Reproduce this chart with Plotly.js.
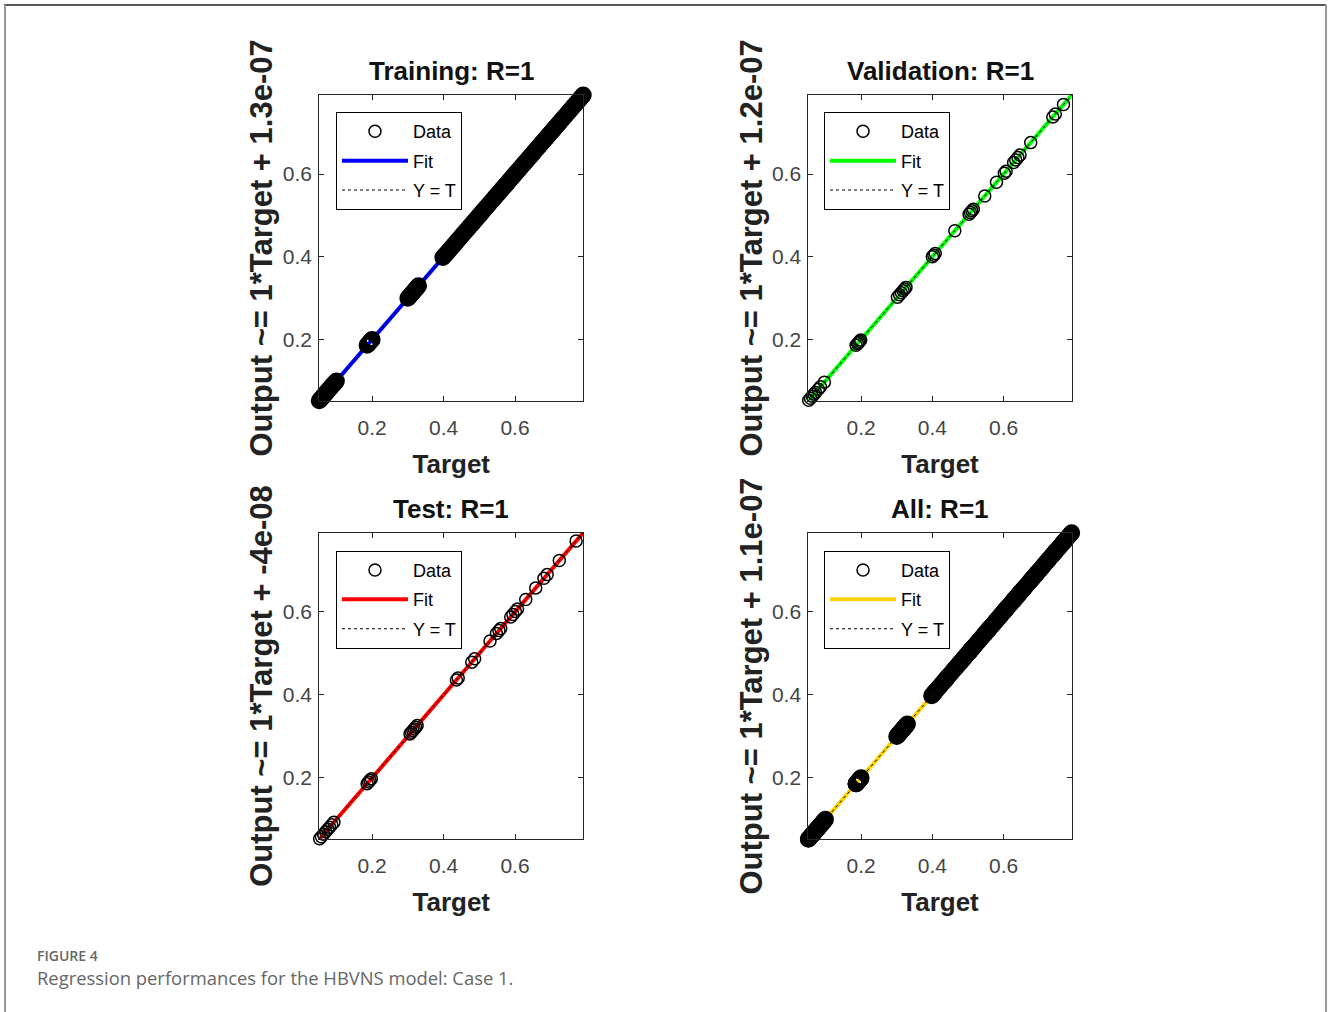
<!DOCTYPE html>
<html><head><meta charset="utf-8">
<script src="https://cdn.plot.ly/plotly-3.0.1.min.js"></script>
<style>html,body{margin:0;padding:0;background:#fff;} #chart{width:1328px;height:1012px;}</style>
</head><body><div id="chart"></div>
<script>
// ---------- data ----------
const panelTitles = ['Training: R=1', 'Validation: R=1', 'Test: R=1', 'All: R=1'];
const yTitles = ['Output ~= 1*Target + 1.3e-07', 'Output ~= 1*Target + 1.2e-07',
                 'Output ~= 1*Target + -4e-08', 'Output ~= 1*Target + 1.1e-07'];
const xTitle = 'Target';
const fitSlopes = [1, 1, 1, 1];
const fitOffsets = [1.3e-7, 1.2e-7, -4e-8, 1.1e-7];
const axisLimits = [0.052, 0.791];
const tickValues = [0.2, 0.4, 0.6];
const tickLabels = ['0.2', '0.4', '0.6'];
const legendNames = ['Data', 'Fit', 'Y = T'];

const trainTargets = [
  0.052, 0.055, 0.058, 0.061, 0.064, 0.067, 0.070, 0.073, 0.076, 0.079, 0.082, 0.085, 0.088, 0.091, 0.094, 0.097, 0.100,
  0.186, 0.189, 0.192, 0.195, 0.198, 0.200,
  0.300, 0.303, 0.306, 0.309, 0.312, 0.315, 0.318, 0.321, 0.324, 0.327, 0.330,
  0.398, 0.403, 0.408, 0.413, 0.418, 0.423, 0.428, 0.433, 0.438, 0.443, 0.448, 0.453, 0.458, 0.463, 0.468,
  0.473, 0.478, 0.483, 0.488, 0.493, 0.498, 0.503, 0.508, 0.513, 0.518, 0.523, 0.528, 0.533, 0.538, 0.543,
  0.548, 0.553, 0.558, 0.563, 0.568, 0.573, 0.578, 0.583, 0.588, 0.593, 0.598, 0.603, 0.608, 0.613, 0.618,
  0.623, 0.628, 0.633, 0.638, 0.643, 0.648, 0.653, 0.658, 0.663, 0.668, 0.673, 0.678, 0.683, 0.688, 0.693,
  0.698, 0.703, 0.708, 0.713, 0.718, 0.723, 0.728, 0.733, 0.738, 0.743, 0.748, 0.753, 0.758, 0.763, 0.768,
  0.773, 0.778, 0.783, 0.788, 0.791
];
const trainOutputs = trainTargets; // R = 1: outputs coincide with targets

const valTargets = [
  0.053, 0.058, 0.063, 0.068, 0.072, 0.080, 0.086, 0.097,
  0.186, 0.190, 0.193, 0.196, 0.199,
  0.302, 0.308, 0.313, 0.318, 0.322, 0.326,
  0.400, 0.404, 0.408, 0.463, 0.503, 0.507, 0.511, 0.515, 0.547, 0.580, 0.602, 0.607,
  0.628, 0.634, 0.640, 0.646, 0.676, 0.738, 0.745, 0.768
];
const valOutputs = valTargets;

const testTargets = [
  0.053, 0.058, 0.064, 0.070, 0.076, 0.081, 0.087, 0.093,
  0.186, 0.190, 0.194, 0.198,
  0.306, 0.310, 0.314, 0.318, 0.322, 0.326,
  0.436, 0.441, 0.479, 0.487, 0.530, 0.548, 0.555, 0.560, 0.588, 0.594, 0.601, 0.607,
  0.630, 0.658, 0.681, 0.690, 0.724, 0.771
];
const testOutputs = testTargets;

const allTargets = trainTargets.concat(valTargets, testTargets);
const allOutputs = trainOutputs.concat(valOutputs, testOutputs);

const panelTargets = [trainTargets, valTargets, testTargets, allTargets];
const panelOutputs = [trainOutputs, valOutputs, testOutputs, allOutputs];

// ---------- styling ----------
const fitColors = ['#0000ff', '#00ff00', '#ff0000', '#ffd400'];
const markerSizes = [14, 12, 12, 14];
const markerLineWidths = [3, 1.5, 1.5, 3];
const xDomains = [[0.2404, 0.4392], [0.6087, 0.8070], [0.2404, 0.4392], [0.6087, 0.8070]];
const yDomains = [[0.6040, 0.9061], [0.6040, 0.9061], [0.1707, 0.4736], [0.1707, 0.4736]];
const legendPos = [[0.2530, 0.8893], [0.6205, 0.8893], [0.2530, 0.4558], [0.6205, 0.4558]];
const SANS = 'Liberation Sans, Arial, sans-serif';

const traces = [];
const layout = {
  width: 1328, height: 1012,
  margin: {l: 0, r: 0, t: 0, b: 0},
  paper_bgcolor: '#fff', plot_bgcolor: '#fff',
  showlegend: true,
  annotations: [], shapes: []
};

for (let i = 0; i < 4; i++) {
  const s = i === 0 ? '' : String(i + 1);
  const xa = 'x' + s, ya = 'y' + s, lg = 'legend' + s;
  const fitY = axisLimits.map(v => fitSlopes[i] * v + fitOffsets[i]);
  traces.push({
    x: axisLimits, y: fitY, mode: 'lines', name: legendNames[1],
    line: {color: fitColors[i], width: 4}, xaxis: xa, yaxis: ya, legend: lg, legendrank: 2,
    legendgroup: 'fit' + i, cliponaxis: false, hoverinfo: 'skip'
  });
  traces.push({
    x: panelTargets[i], y: panelOutputs[i], mode: 'markers', name: legendNames[0],
    marker: {symbol: 'circle-open', size: markerSizes[i], color: '#000', line: {width: markerLineWidths[i]}},
    xaxis: xa, yaxis: ya, legend: lg, showlegend: false, legendgroup: 'data' + i, cliponaxis: false
  });
  // legend key for the Data series (same symbol, uniform legend size)
  traces.push({
    x: [null], y: [null], mode: 'markers', name: legendNames[0],
    marker: {symbol: 'circle-open', size: 12, color: '#000', line: {width: 1.5}},
    xaxis: xa, yaxis: ya, legend: lg, legendrank: 1, legendgroup: 'data' + i, hoverinfo: 'skip'
  });
  traces.push({
    x: axisLimits, y: axisLimits, mode: 'lines', name: legendNames[2],
    line: {color: '#000', width: 1, dash: 'dot'}, xaxis: xa, yaxis: ya, legend: lg, legendrank: 3,
    legendgroup: 'yt' + i, cliponaxis: false, hoverinfo: 'skip'
  });

  const common = {
    range: axisLimits, tickvals: tickValues, ticktext: tickLabels,
    ticks: 'inside', ticklen: 5, tickwidth: 1, tickcolor: '#262626',
    showline: true, linecolor: '#262626', linewidth: 1, mirror: 'ticks',
    showgrid: false, zeroline: false, fixedrange: true,
    tickfont: {family: SANS, size: 21, color: '#444'}
  };
  layout['xaxis' + s] = Object.assign({}, common, {
    domain: xDomains[i], anchor: ya, ticklabelstandoff: 8,
    title: {text: xTitle, font: {family: SANS, size: 26, color: '#222', weight: 'bold'}, standoff: 16}
  });
  layout['yaxis' + s] = Object.assign({}, common, {
    domain: yDomains[i], anchor: xa, ticklabelstandoff: 2,
    title: {text: yTitles[i], font: {family: SANS, size: 31, color: '#222', weight: 'bold'}, standoff: 0}
  });
  layout[lg] = {
    x: legendPos[i][0], y: legendPos[i][1], xanchor: 'left', yanchor: 'top',
    xref: 'paper', yref: 'paper', traceorder: 'grouped', tracegroupgap: 3,
    bgcolor: '#fff', bordercolor: '#000', borderwidth: 1,
    font: {family: SANS, size: 18, color: '#000'}, itemwidth: 66
  };
  layout.annotations.push({
    text: panelTitles[i], xref: xa + ' domain', yref: ya + ' domain', x: 0.5, y: 1,
    xanchor: 'center', yanchor: 'middle', yshift: 24, showarrow: false,
    font: {family: SANS, size: 26, color: '#111', weight: 'bold'}
  });
}

layout.annotations.push({
  text: 'FIGURE 4', xref: 'paper', yref: 'paper', x: 35 / 1328, y: 1 - 955 / 1012,
  xanchor: 'left', yanchor: 'middle', showarrow: false,
  font: {family: 'Open Sans, sans-serif', size: 14, color: '#666', weight: 600}
});
layout.annotations.push({
  text: 'Regression performances for the HBVNS model: Case 1.', xref: 'paper', yref: 'paper',
  x: 35 / 1328, y: 1 - 977 / 1012, xanchor: 'left', yanchor: 'middle', showarrow: false,
  font: {family: 'Open Sans, sans-serif', size: 18.4, color: '#666'}
});
// page frame
layout.shapes.push({type: 'line', xref: 'paper', yref: 'paper', x0: 4 / 1328, x1: 1326 / 1328,
  y0: 1 - 5 / 1012, y1: 1 - 5 / 1012, line: {color: '#222', width: 1.5}});
layout.shapes.push({type: 'line', xref: 'paper', yref: 'paper', x0: 5 / 1328, x1: 5 / 1328,
  y0: 0, y1: 1 - 5 / 1012, line: {color: '#999', width: 2}});
layout.shapes.push({type: 'line', xref: 'paper', yref: 'paper', x0: 1326 / 1328, x1: 1326 / 1328,
  y0: 0, y1: 1 - 5 / 1012, line: {color: '#999', width: 2}});

Plotly.newPlot('chart', traces, layout, {displayModeBar: false, staticPlot: true});
</script></body></html>
